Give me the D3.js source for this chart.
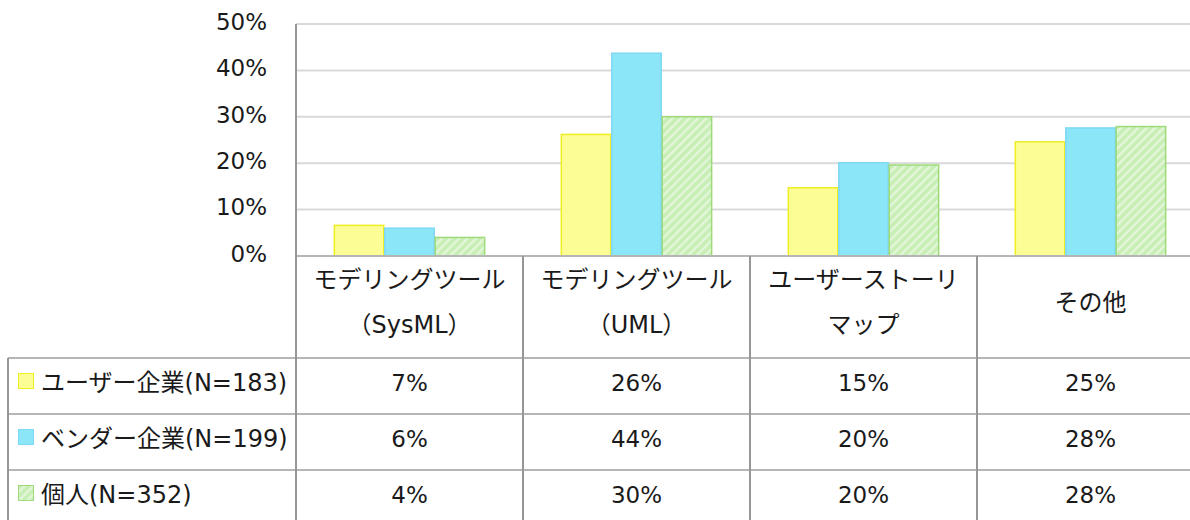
<!DOCTYPE html>
<html>
<head>
<meta charset="utf-8">
<script src="https://cdn.jsdelivr.net/npm/d3@7"></script>
<style>
  html, body { margin: 0; padding: 0; background: #ffffff; }
  svg { display: block; }
  text { font-family: "DejaVu Sans", "Noto Sans CJK JP", sans-serif; fill: #1a1a1a; }
</style>
</head>
<body>
<svg id="chart" width="1190" height="520"></svg>
<script>
// ---- data ----
const categories = [
  ["モデリングツール", "（SysML）"],
  ["モデリングツール", "（UML）"],
  ["ユーザーストーリ", "マップ"],
  ["その他"]
];
const seriesNames = ["ユーザー企業(N=183)", "ベンダー企業(N=199)", "個人(N=352)"];
const userValues   = [6.6, 26.2, 14.7, 24.6];
const vendorValues = [6.0, 43.7, 20.1, 27.6];
const personValues = [4.0, 30.0, 19.6, 27.9];
const yTicks = [0, 10, 20, 30, 40, 50];

const seriesValues = [userValues, vendorValues, personValues];
const fills = ["#fdfd96", "#8be6f8", "url(#hatch)"];
const strokes = ["#eeee20", "#7fd8f5", "#9edb78"];

// ---- layout ----
const svg = d3.select("#chart");
const plotLeft = 296, plotTop = 24, plotBottom = 256, catWidth = 227;
const tableLeft = 8, headerBottom = 358, rowH = 56;
const W = 1190, H = 520;

const catKeys = categories.map((c, i) => i);
const x = d3.scaleBand().domain(catKeys).range([plotLeft, plotLeft + catWidth * categories.length]).padding(0);
const xs = d3.scaleBand().domain(d3.range(seriesNames.length)).range([0, x.bandwidth()]).paddingInner(0).paddingOuter(0.75);
const y = d3.scaleLinear().domain([0, 50]).range([plotBottom, plotTop]);

// pattern
const defs = svg.append("defs");
const pat = defs.append("pattern").attr("id", "hatch").attr("patternUnits", "userSpaceOnUse")
  .attr("width", 6).attr("height", 6).attr("patternTransform", "rotate(45)");
pat.append("rect").attr("width", 6).attr("height", 6).attr("fill", "#c7eeb4");
pat.append("rect").attr("x", 0).attr("width", 2.4).attr("height", 6).attr("fill", "#e3f6d9");

// gridlines
svg.append("g").selectAll("line").data(yTicks.filter(t => t > 0)).join("line")
  .attr("x1", plotLeft).attr("x2", W)
  .attr("y1", d => y(d)).attr("y2", d => y(d))
  .attr("stroke", "#d9d9d9").attr("stroke-width", 2);

// y axis labels
const yAxis = d3.axisLeft(y).tickValues(yTicks).tickSize(0).tickPadding(0)
  .tickFormat(d => d + "%");
const ga = svg.append("g").attr("transform", `translate(267,0)`).call(yAxis);
ga.select(".domain").remove();
ga.selectAll("text").attr("font-size", 23).attr("font-family", "DejaVu Sans, Noto Sans CJK JP, sans-serif")
  .attr("fill", "#1a1a1a").attr("dy", "0.23em");

// bars
seriesValues.forEach((vals, s) => {
  svg.append("g").selectAll("rect").data(vals).join("rect")
    .attr("x", (d, i) => x(i) + xs(s) + 0.5)
    .attr("y", d => y(d))
    .attr("width", xs.bandwidth() - 1)
    .attr("height", d => plotBottom - y(d))
    .attr("fill", fills[s])
    .attr("stroke", strokes[s]).attr("stroke-width", 1.5);
});

// baseline
svg.append("line").attr("x1", plotLeft).attr("x2", W).attr("y1", plotBottom).attr("y2", plotBottom)
  .attr("stroke", "#b5b5b5").attr("stroke-width", 2);

// ---- data table ----
const tbl = svg.append("g");
const rowTops = seriesNames.map((n, i) => headerBottom + i * rowH);
tbl.selectAll("line.h").data(rowTops.concat([headerBottom + 3 * rowH])).join("line")
  .attr("class", "h")
  .attr("x1", tableLeft).attr("x2", W)
  .attr("y1", d => d).attr("y2", d => d)
  .attr("stroke", "#b5b5b5").attr("stroke-width", 2);
tbl.selectAll("line.v").data(catKeys.map(k => x(k)).concat([x(catKeys.length - 1) + x.bandwidth()])).join("line")
  .attr("class", "v")
  .attr("x1", d => d).attr("x2", d => d)
  .attr("y1", (d, i) => i === 0 ? plotTop : plotBottom).attr("y2", H)
  .attr("stroke", "#969696").attr("stroke-width", 2);
tbl.append("line").attr("x1", tableLeft).attr("x2", tableLeft).attr("y1", headerBottom).attr("y2", H)
  .attr("stroke", "#969696").attr("stroke-width", 2);

// header labels
const hc = (plotBottom + headerBottom) / 2;
categories.forEach((lines, i) => {
  const cx = x(i) + x.bandwidth() / 2;
  const t = tbl.append("text").attr("text-anchor", "middle").attr("font-size", 24);
  if (lines.length === 1) {
    t.append("tspan").attr("x", cx).attr("y", hc + 4).text(lines[0]);
  } else {
    t.append("tspan").attr("x", cx).attr("y", hc - 19).text(lines[0]);
    t.append("tspan").attr("x", cx).attr("y", hc + 26).text(lines[1]);
  }
});

// legend cells and values
seriesNames.forEach((name, s) => {
  const top = rowTops[s];
  tbl.append("rect").attr("x", 18.5).attr("y", top + 15.5).attr("width", 15).attr("height", 15)
    .attr("fill", fills[s]).attr("stroke", strokes[s]).attr("stroke-width", 1);
  tbl.append("text").attr("x", 41).attr("y", top + 33).attr("font-size", 24).text(name);
  seriesValues[s].forEach((v, i) => {
    tbl.append("text").attr("x", x(i) + x.bandwidth() / 2).attr("y", top + 33)
      .attr("text-anchor", "middle").attr("font-size", 23)
      .text(Math.round(v) + "%");
  });
});
</script>
</body>
</html>
